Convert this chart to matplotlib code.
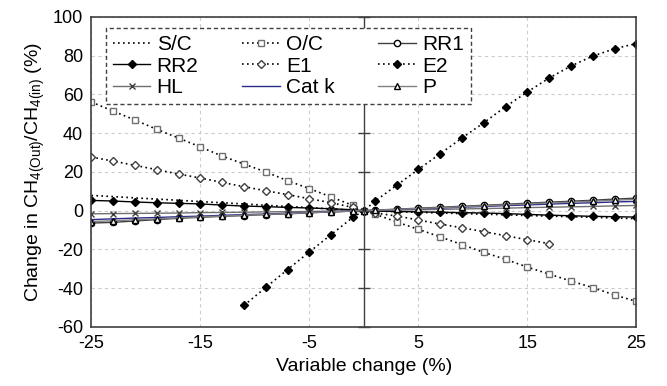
import matplotlib
matplotlib.use("Agg")
import matplotlib.pyplot as plt

plt.rcParams['font.family'] = ['Liberation Sans', 'DejaVu Sans']
plt.rcParams['mathtext.default'] = 'regular'
plt.rcParams['axes.unicode_minus'] = False

# valores de cambio de variable (%)
x = [-25, -23, -21, -19, -17, -15, -13, -11, -9, -7, -5, -3, -1, 0,
     1, 3, 5, 7, 9, 11, 13, 15, 17, 19, 21, 23, 25]

s_c = [7.9, 7.3, 6.6, 6.0, 5.4, 4.7, 4.1, 3.5, 2.8, 2.2, 1.6, 0.9, 0.3, 0,
       -0.2, -0.5, -0.8, -1.2, -1.5, -1.8, -2.1, -2.5, -2.8, -3.1, -3.4, -3.8, -4.1]
o_c = [56.1, 51.4, 46.8, 42.0, 37.5, 32.9, 28.2, 24.1, 20.0, 15.5, 11.4, 7.1, 2.7, 0,
       -1.7, -5.8, -9.6, -13.5, -17.5, -21.5, -25.1, -29.1, -32.7, -36.3, -39.7, -43.5, -46.8]
rr1 = [-6.4, -6.0, -5.3, -4.6, -3.9, -3.4, -2.9, -2.5, -2.0, -1.6, -1.1, -0.6, -0.2, 0,
       0.3, 0.8, 1.3, 1.8, 2.3, 2.8, 3.3, 3.9, 4.4, 4.9, 5.4, 6.0, 6.5]
rr2 = [5.3, 5.0, 4.5, 4.1, 3.8, 3.5, 2.9, 2.4, 2.1, 1.7, 1.4, 1.0, 0.5, 0,
       -0.2, -0.4, -0.6, -0.8, -1.0, -1.2, -1.5, -1.9, -2.3, -2.6, -2.9, -3.1, -3.3]
x_e1 = x[:23]
e1 = [27.7, 25.6, 23.4, 21.2, 18.9, 16.9, 14.6, 12.4, 10.3, 8.3, 6.2, 4.1, 1.7, 0,
      -1.2, -2.7, -4.8, -6.9, -8.8, -10.8, -12.9, -15.0, -17.0]
x_e2 = x[7:]
e2 = [-48.9, -39.6, -30.4, -21.3, -12.3, -3.4, 0,
      4.8, 13.1, 21.3, 29.4, 37.5, 45.4, 53.7, 61.3, 68.5, 74.7, 79.8, 83.6, 86.3]
hl = [-1.6, -1.5, -1.4, -1.3, -1.2, -1.0, -0.9, -0.8, -0.6, -0.5, -0.4, -0.2, -0.1, 0,
      0.1, 0.3, 0.5, 0.7, 0.9, 1.1, 1.3, 1.6, 1.8, 2.0, 2.2, 2.5, 2.7]
cat_k = [-4.6, -4.2, -3.8, -3.5, -3.1, -2.8, -2.4, -2.0, -1.7, -1.3, -0.9, -0.5, -0.2, 0,
         0.2, 0.6, 1.0, 1.4, 1.8, 2.2, 2.6, 3.0, 3.4, 3.8, 4.1, 4.5, 4.8]
p = [-5.6, -5.2, -4.7, -4.2, -3.7, -3.2, -2.8, -2.3, -1.9, -1.5, -1.0, -0.6, -0.2, 0,
     0.2, 0.7, 1.1, 1.6, 2.0, 2.5, 3.0, 3.5, 4.0, 4.4, 4.9, 5.4, 5.9]

xticks = [-25, -15, -5, 5, 15, 25]
yticks = [-60, -40, -20, 0, 20, 40, 60, 80, 100]

fig = plt.figure(figsize=(6.67, 3.86), dpi=100)
ax = fig.add_axes([0.137, 0.153, 0.817, 0.803])

ls_dot = (0, (1, 2))
h_sc, = ax.plot(x, s_c, color='black', linestyle=ls_dot, lw=1.2, label='S/C')
h_oc, = ax.plot(x, o_c, color='black', linestyle=ls_dot, lw=1.2, marker='s', ms=5,
                mfc='white', mec='#707070', label='O/C')
h_rr1, = ax.plot(x, rr1, color='#404040', lw=1, marker='o', ms=4.5, mfc='white',
                 mec='black', label='RR1')
h_rr2, = ax.plot(x, rr2, color='black', lw=1, marker='D', ms=4, mfc='black',
                 mec='black', label='RR2')
h_e1, = ax.plot(x_e1, e1, color='black', linestyle=ls_dot, lw=1.2, marker='D', ms=4.5,
                mfc='white', mec='#404040', label='E1')
h_e2, = ax.plot(x_e2, e2, color='black', linestyle=ls_dot, lw=1.2, marker='D', ms=4,
                mfc='black', mec='black', label='E2')
h_hl, = ax.plot(x, hl, color='#707070', lw=1, marker='x', ms=5, mec='#404040',
                label='HL')
h_ck, = ax.plot(x, cat_k, color='#2b2b8c', lw=1, label='Cat k')
h_p, = ax.plot(x, p, color='#808080', lw=1, marker='^', ms=4.5, mfc='white', mec='black',
               label='P')

ax.set_xlim(-25, 25)
ax.set_ylim(-60, 100)
ax.set_xticks(xticks)
ax.set_yticks(yticks)
ax.grid(True, color='#cccccc', linestyle=(0, (3, 3)), lw=0.8)
ax.tick_params(length=0, labelsize=13, pad=6)

# eje vertical en x=0 con marcas cruzadas
ax.axvline(0, color='#404040', lw=1)
ax.plot([0] * len(yticks), yticks, linestyle='none', marker='_', ms=8,
        mew=1, color='#404040', clip_on=False)

for sp in ax.spines.values():
    sp.set_color('#404040')
    sp.set_linewidth(1.2)

ax.set_xlabel('Variable change (%)', fontsize=14)
ax.set_ylabel('Change in CH$_{4(Out)}$/CH$_{4(in)}$ (%)', fontsize=14)

# orden por columnas para que se lea por filas como el original
handles = [h_sc, h_rr2, h_hl, h_oc, h_e1, h_ck, h_rr1, h_e2, h_p]
leg = ax.legend(handles=handles, labels=[h.get_label() for h in handles],
                ncol=3, loc='upper left', bbox_to_anchor=(0.026, 0.965),
                fontsize=15, handlelength=1.8, handletextpad=0.3,
                columnspacing=2.1, labelspacing=0.12, borderpad=0.35,
                borderaxespad=0, fancybox=False, framealpha=1)
leg.get_frame().set_edgecolor('#404040')
leg.get_frame().set_linestyle((0, (3, 2)))
leg.get_frame().set_linewidth(1)

fig.savefig('out.png', dpi=100)
